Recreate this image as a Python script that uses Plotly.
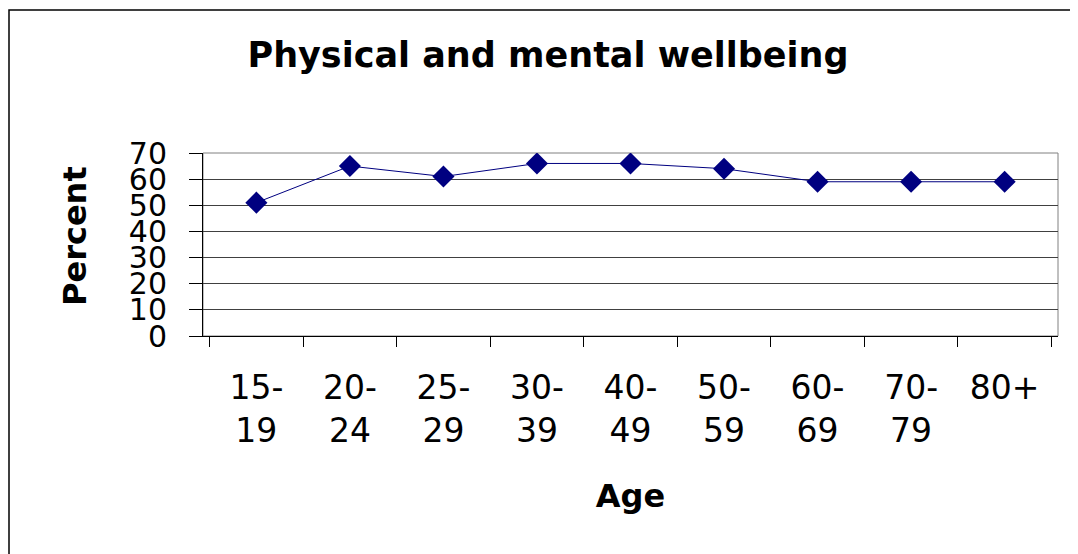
import plotly.graph_objects as go

categories = ["15-<br>19", "20-<br>24", "25-<br>29", "30-<br>39", "40-<br>49",
              "50-<br>59", "60-<br>69", "70-<br>79", "80+"]
percent = [51, 65, 61, 66, 66, 64, 59, 59, 59]

# the page body adds an 8px offset, so the figure is 8px smaller
W, H = 1070, 546
L, R, T, B = 195, 20, 145, 218
pw, ph = W - L - R, H - T - B

def px(x):
    return (x - L) / pw

def py(y):
    return (H - B - y) / ph

fig = go.Figure()
fig.add_trace(go.Scatter(
    x=categories, y=percent, mode="lines+markers",
    line=dict(color="#000080", width=1),
    marker=dict(symbol="diamond", size=17, color="#000080"),
    showlegend=False,
))

font_family = "DejaVu Sans, Liberation Sans, Arial, sans-serif"

fig.update_layout(
    width=W, height=H,
    margin=dict(l=L, r=R, t=T, b=B),
    paper_bgcolor="white", plot_bgcolor="white",
    title=dict(text="<b>Physical and mental wellbeing</b>", x=540 / W, xanchor="center",
               y=1 - 47 / H, yanchor="middle",
               font=dict(family=font_family, size=35, color="black")),
    xaxis=dict(
        type="category", tickson="boundaries", ticks="outside", ticklen=10,
        tickcolor="black", showline=True, linecolor="black", linewidth=1,
        showgrid=False, mirror=False,
        tickfont=dict(family=font_family, size=33, color="black"),
        ticklabelstandoff=22,
        title=dict(text="<b>Age</b>", font=dict(family=font_family, size=32, color="black"),
                   standoff=36),
    ),
    yaxis=dict(
        range=[0, 70], dtick=10, tick0=0, ticks="outside", ticklen=13,
        tickcolor="black", showline=True, linecolor="black", linewidth=1,
        showgrid=True, gridcolor="#404040", gridwidth=1,
        tickfont=dict(family=font_family, size=30, color="black"),
        ticklabelstandoff=16,
        zeroline=False,
    ),
    annotations=[
        dict(text="<b>Percent</b>", textangle=-90, showarrow=False,
             xref="paper", yref="paper", x=px(67), y=py(228),
             xanchor="center", yanchor="middle",
             font=dict(family=font_family, size=32, color="black")),
    ],
    shapes=[
        # plot area border (top/right in gray)
        dict(type="rect", xref="paper", yref="paper", x0=0, y0=0, x1=1, y1=1,
             line=dict(color="#808080", width=1), layer="below"),
        # outer chart border
        dict(type="rect", xref="paper", yref="paper",
             x0=px(1), y0=py(600), x1=px(1100), y1=py(2),
             line=dict(color="black", width=1.5)),
    ],
)

fig.write_html("out.html")
